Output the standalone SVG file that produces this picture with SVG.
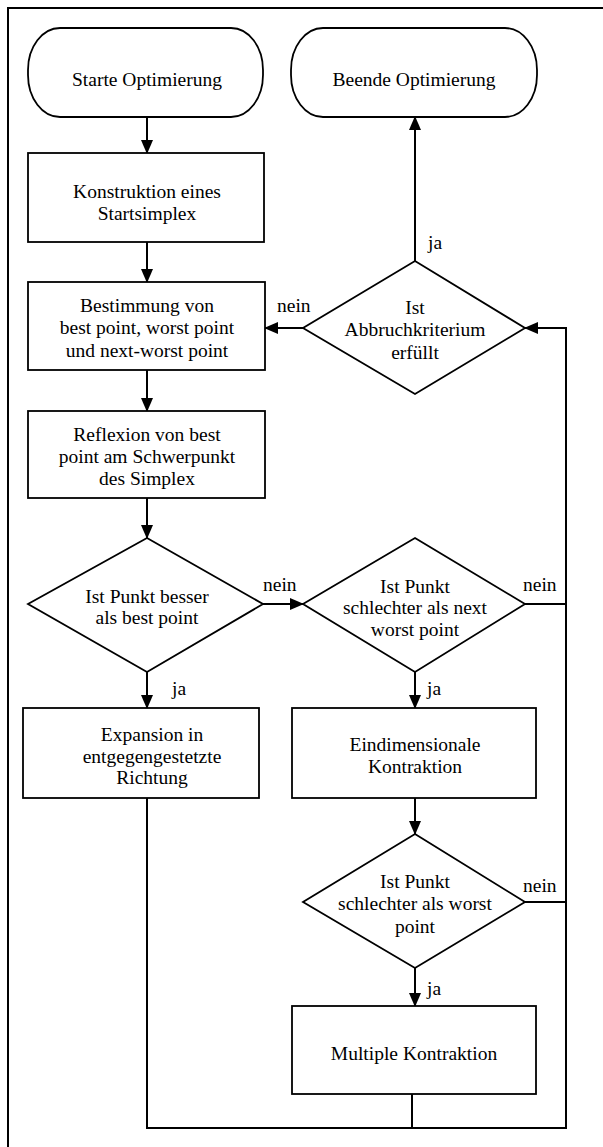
<svg xmlns="http://www.w3.org/2000/svg" width="603" height="1147" viewBox="0 0 603 1147">
<style>
.sh{fill:#fff;stroke:#000;stroke-width:1.8}
.t{font-family:"Liberation Serif","Times New Roman",serif;font-size:19.5px;fill:#000;text-anchor:middle}
.l{font-family:"Liberation Serif","Times New Roman",serif;font-size:19.5px;fill:#000}
.c{fill:none;stroke:#000;stroke-width:2}
.a{marker-end:url(#ah)}
</style>
<defs>
<marker id="ah" markerUnits="userSpaceOnUse" markerWidth="14" markerHeight="12" viewBox="0 0 14 12" refX="13" refY="6" orient="auto">
<path d="M0,0 L14,6 L0,12 Z" fill="#000"/>
</marker>
</defs>
<rect x="8" y="8" width="610" height="1160" fill="none" stroke="#000" stroke-width="2"/>
<g id="connectors">
<line class="c a" x1="147" y1="117" x2="147" y2="153"/>
<line class="c a" x1="147" y1="242" x2="147" y2="282"/>
<line class="c a" x1="147" y1="370" x2="147" y2="411"/>
<line class="c a" x1="147" y1="498" x2="147" y2="538"/>
<line class="c a" x1="263" y1="604" x2="303" y2="604"/>
<line class="c a" x1="147" y1="672" x2="147" y2="708"/>
<line class="c a" x1="415" y1="672" x2="415" y2="708"/>
<line class="c a" x1="415" y1="798" x2="415" y2="834"/>
<line class="c a" x1="415" y1="968" x2="415" y2="1006"/>
<line class="c" x1="525" y1="604" x2="566" y2="604"/>
<line class="c" x1="525" y1="902" x2="566" y2="902"/>
<polyline class="c a" points="147,798 147,1128 566,1128 566,328 525,328"/>
<line class="c" x1="412" y1="1094" x2="412" y2="1128"/>
<line class="c a" x1="303" y1="328" x2="265" y2="328"/>
<line class="c a" x1="415" y1="261" x2="415" y2="117"/>
<text class="l" x="428" y="249">ja</text>
<text class="l" x="277" y="312">nein</text>
<text class="l" x="263" y="591">nein</text>
<text class="l" x="523" y="591">nein</text>
<text class="l" x="172" y="695">ja</text>
<text class="l" x="427" y="695">ja</text>
<text class="l" x="523" y="892">nein</text>
<text class="l" x="427" y="995">ja</text>
</g>
<g id="start">
<rect class="sh" x="28" y="28" width="235" height="89" rx="32" ry="42"/>
<text class="t" x="147" y="86">Starte Optimierung</text>
</g>
<g id="end">
<rect class="sh" x="291" y="28" width="246" height="89" rx="32" ry="42"/>
<text class="t" x="414" y="86">Beende Optimierung</text>
</g>
<g id="startsimplex">
<rect class="sh" x="28" y="153" width="236" height="89"/>
<text class="t" x="147" y="198">Konstruktion eines</text>
<text class="t" x="147" y="220">Startsimplex</text>
</g>
<g id="bestimmung">
<rect class="sh" x="28" y="282" width="237" height="88"/>
<text class="t" x="147" y="312">Bestimmung von</text>
<text class="t" x="147" y="334">best point, worst point</text>
<text class="t" x="147" y="357">und next-worst point</text>
</g>
<g id="abbruch">
<polygon class="sh" points="415,261 525,328 415,394 303,328"/>
<text class="t" x="415" y="314">Ist</text>
<text class="t" x="415" y="336">Abbruchkriterium</text>
<text class="t" x="415" y="359">erfüllt</text>
</g>
<g id="reflexion">
<rect class="sh" x="28" y="411" width="237" height="87"/>
<text class="t" x="147" y="441">Reflexion von best</text>
<text class="t" x="147" y="463">point am Schwerpunkt</text>
<text class="t" x="147" y="485">des Simplex</text>
</g>
<g id="besser">
<polygon class="sh" points="147,538 263,604 147,672 28,604"/>
<text class="t" x="147" y="603">Ist Punkt besser</text>
<text class="t" x="147" y="624">als best point</text>
</g>
<g id="schlechter-next">
<polygon class="sh" points="415,538 525,604 415,672 303,604"/>
<text class="t" x="415" y="593">Ist Punkt</text>
<text class="t" x="415" y="614">schlechter als next</text>
<text class="t" x="415" y="636">worst point</text>
</g>
<g id="expansion">
<rect class="sh" x="23" y="708" width="236" height="90"/>
<text class="t" x="152" y="741">Expansion in</text>
<text class="t" x="152" y="763">entgegengestetzte</text>
<text class="t" x="152" y="784">Richtung</text>
</g>
<g id="eindim">
<rect class="sh" x="292" y="708" width="244" height="90"/>
<text class="t" x="415" y="751">Eindimensionale</text>
<text class="t" x="415" y="773">Kontraktion</text>
</g>
<g id="schlechter-worst">
<polygon class="sh" points="415,834 525,902 415,968 303,902"/>
<text class="t" x="415" y="888">Ist Punkt</text>
<text class="t" x="415" y="910">schlechter als worst</text>
<text class="t" x="415" y="933">point</text>
</g>
<g id="multiple">
<rect class="sh" x="292" y="1006" width="244" height="88"/>
<text class="t" x="414" y="1060">Multiple Kontraktion</text>
</g>
</svg>
